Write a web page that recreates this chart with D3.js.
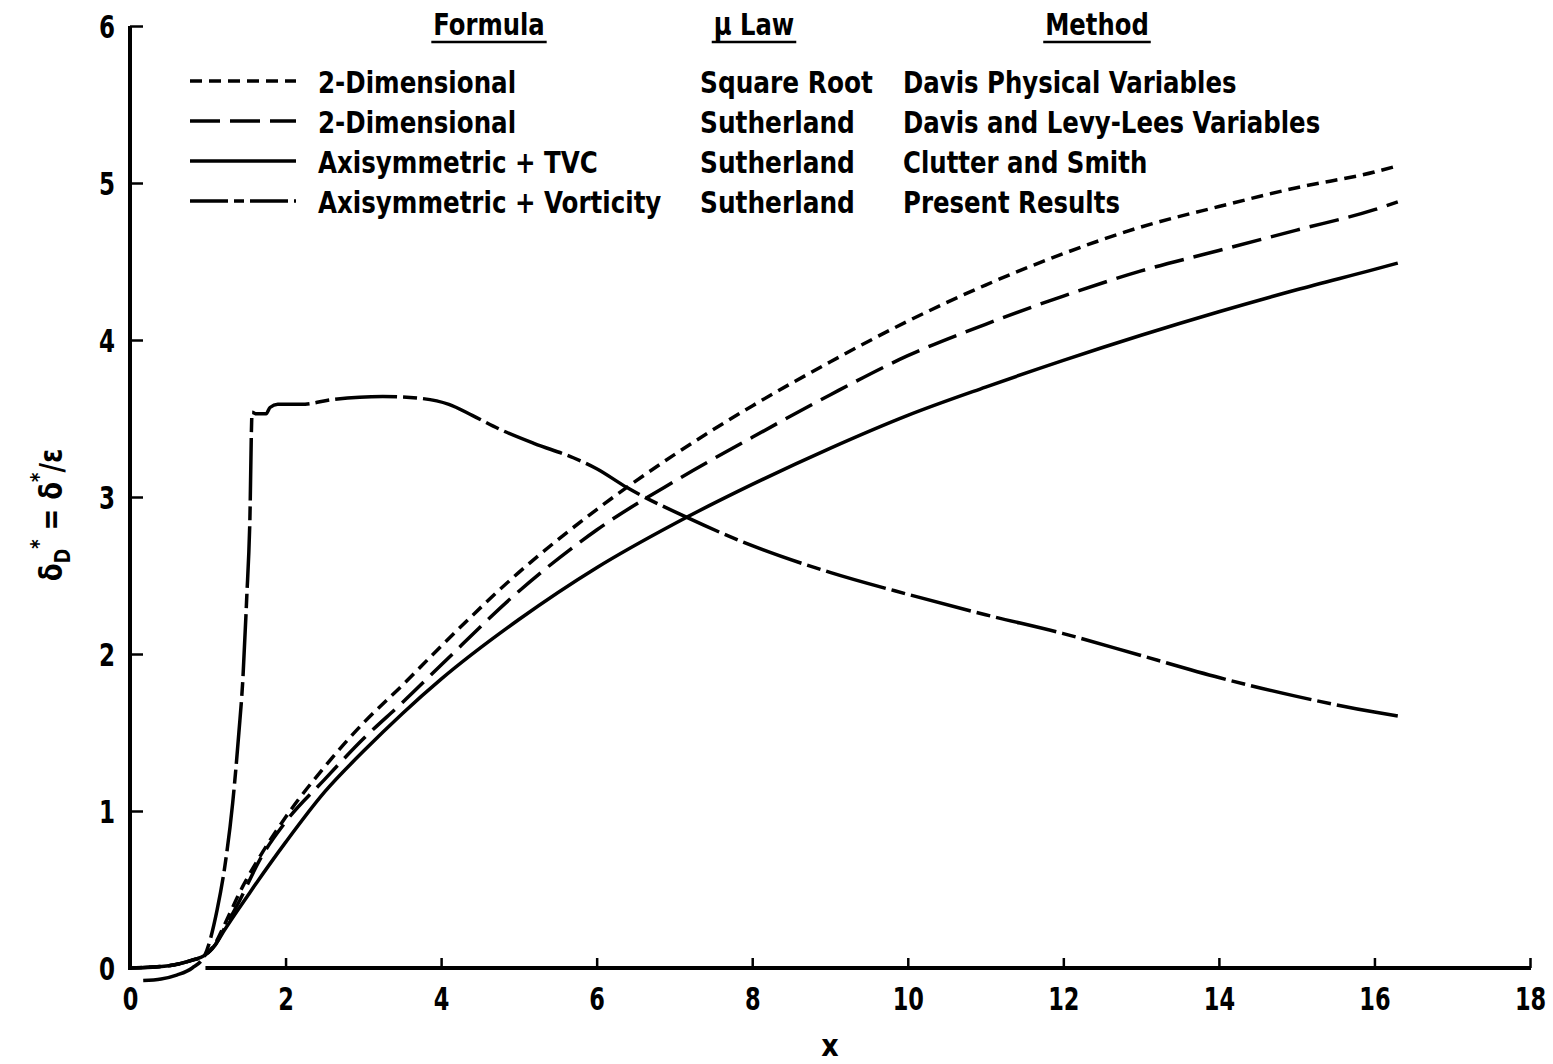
<!DOCTYPE html>
<html><head><meta charset="utf-8">
<script src="https://cdn.jsdelivr.net/npm/d3@7"></script>
<style>
body{margin:0;background:#fff;}
svg text{font-family:"DejaVu Sans Condensed","DejaVu Sans",sans-serif;font-weight:bold;fill:#000;}
</style></head>
<body>
<svg id="c" width="1553" height="1064"></svg>
<script>
// ---- data ----
const xTicks = [0,2,4,6,8,10,12,14,16,18];
const yTicks = [0,1,2,3,4,5,6];
const seriesNames = ["2-Dimensional","2-Dimensional","Axisymmetric + TVC","Axisymmetric + Vorticity"];
const muLaw = ["Square Root","Sutherland","Sutherland","Sutherland"];
const methods = ["Davis Physical Variables","Davis and Levy-Lees Variables","Clutter and Smith","Present Results"];
const dashStyles = ["12,7","30,10",null,"62,6,14,6"];

const sqrtRoot2D = [[0,0],[0.5,0.015],[0.8,0.05],[0.96,0.08],[1.1,0.16],[1.2,0.26],[1.45,0.52],[1.67,0.71],[2,0.96],[2.5,1.28],[3,1.56],[3.5,1.8],[4,2.05],[5,2.52],[6,2.92],[7,3.27],[8,3.58],[9,3.86],[10,4.12],[11,4.35],[12,4.55],[13,4.72],[14,4.85],[15,4.97],[16,5.07],[16.3,5.11]];
const sutherland2D = [[0,0],[0.5,0.015],[0.8,0.05],[0.96,0.08],[1.1,0.15],[1.2,0.24],[1.41,0.43],[1.67,0.69],[2,0.93],[2.5,1.2],[3,1.46],[3.5,1.69],[4,1.93],[5,2.4],[6,2.79],[7,3.1],[8,3.38],[9,3.65],[10,3.9],[11,4.1],[12,4.28],[13,4.44],[14,4.57],[15,4.7],[16,4.83],[16.3,4.88]];
const axisymTVC = [[0,0],[0.5,0.015],[0.8,0.05],[0.96,0.08],[1.1,0.15],[1.2,0.23],[1.54,0.48],[2,0.8],[2.5,1.12],[3,1.38],[3.5,1.62],[4,1.84],[5,2.22],[6,2.55],[7,2.83],[8,3.08],[9,3.31],[10,3.52],[11,3.7],[12,3.87],[13,4.03],[14,4.18],[15,4.32],[16,4.45],[16.3,4.49]];
const axisymVort = [[0.17,-0.08],[0.4,-0.07],[0.6,-0.045],[0.8,0.0],[0.96,0.08],[1.12,0.37],[1.22,0.65],[1.32,1.05],[1.4,1.5],[1.45,1.83],[1.5,2.35],[1.54,2.83],[1.57,3.54],[1.62,3.53],[1.75,3.53],[1.8,3.57],[1.9,3.59],[2.2,3.59],[2.6,3.62],[3.25,3.64],[3.7,3.63],[4.1,3.59],[4.4,3.52],[4.76,3.43],[5.2,3.34],[5.7,3.25],[6.0,3.18],[6.39,3.06],[7.16,2.87],[8,2.69],[9,2.52],[10,2.38],[11,2.25],[12,2.13],[13,1.99],[14,1.85],[15,1.73],[16,1.63],[16.3,1.605]];
const allSeries = [sqrtRoot2D, sutherland2D, axisymTVC, axisymVort];

// ---- chart ----
const svg = d3.select("#c");
const x = d3.scaleLinear().domain([0,18]).range([130,1530]);
const y = d3.scaleLinear().domain([0,6]).range([968,26]);

function condense(sel, f){
  sel.each(function(){
    const L = this.getComputedTextLength();
    d3.select(this).attr("textLength", L*f).attr("lengthAdjust","spacingAndGlyphs");
  });
}

// y axis
const yAxis = svg.append("g").attr("transform",`translate(${x(0)},0)`)
  .call(d3.axisLeft(y).tickValues(yTicks).tickFormat(d3.format("d")).tickSizeInner(-13).tickSizeOuter(0).tickPadding(15));
yAxis.select(".domain").attr("stroke-width",4).attr("d",`M0,${y(6)}V${y(0)+2}`);
yAxis.selectAll(".tick line").attr("stroke-width",2.5);
yAxis.selectAll(".tick").filter(d=>d===0).select("line").remove();
yAxis.selectAll("text").style("font-size","32px").attr("dy","0.36em");
condense(yAxis.selectAll("text"),0.8);

// x axis
const xAxis = svg.append("g").attr("transform",`translate(0,${y(0)})`)
  .call(d3.axisBottom(x).tickValues(xTicks).tickFormat(d3.format("d")).tickSizeInner(-10).tickSizeOuter(0).tickPadding(19));
xAxis.select(".domain").attr("stroke-width",4).attr("d",`M${x(0.97)},0H${x(18)+1}`);
xAxis.selectAll(".tick line").attr("stroke-width",2.5);
xAxis.selectAll(".tick").filter(d=>d===0).select("line").remove();
xAxis.selectAll("text").style("font-size","32px");
condense(xAxis.selectAll("text"),0.78);

// axis titles
svg.append("text").attr("x",x(9)).attr("y",1056).attr("text-anchor","middle").style("font-size","30px").text("x");
const yt = svg.append("text").attr("transform","translate(62,515) rotate(-90) scale(0.9,1)").attr("text-anchor","middle").style("font-size","32px");
yt.append("tspan").text("δ");
yt.append("tspan").attr("dy",8).style("font-size","22px").text("D");
yt.append("tspan").attr("dy",-24).style("font-size","22px").text("*");
yt.append("tspan").attr("dy",16).text(" = δ");
yt.append("tspan").attr("dy",-16).style("font-size","22px").text("*");
yt.append("tspan").attr("dy",16).text("/ε");

// curves
const line = d3.line().x(d=>x(d[0])).y(d=>y(d[1])).curve(d3.curveMonotoneX);
svg.append("g").selectAll("path").data(allSeries).join("path")
  .attr("d",line).attr("fill","none").attr("stroke","#000").attr("stroke-width",3.5)
  .attr("stroke-dasharray",(d,i)=>dashStyles[i]);

// legend
const lg = svg.append("g");
const heads = [["Formula",489],["μ Law",754],["Method",1097]];
heads.forEach(([t,cx])=>{
  const tx = lg.append("text").attr("x",cx).attr("y",35).attr("text-anchor","middle").style("font-size","31px").text(t);
  condense(tx,0.87);
  const w = +tx.attr("textLength");
  lg.append("line").attr("x1",cx-w/2-2).attr("x2",cx+w/2+2).attr("y1",42).attr("y2",42).attr("stroke","#000").attr("stroke-width",2.5);
});
seriesNames.forEach((n,i)=>{
  const yy = 81 + i*40;
  lg.append("line").attr("x1",190).attr("x2",296).attr("y1",yy).attr("y2",yy)
    .attr("stroke","#000").attr("stroke-width",3.5).attr("stroke-dasharray",i===3?"38,6,10,6":dashStyles[i]);
  condense(lg.append("text").attr("x",318).attr("y",yy+12).style("font-size","31px").text(n),0.88);
  condense(lg.append("text").attr("x",700).attr("y",yy+12).style("font-size","31px").text(muLaw[i]),0.89);
  condense(lg.append("text").attr("x",903).attr("y",yy+12).style("font-size","31px").text(methods[i]),0.875);
});
</script>
</body></html>
